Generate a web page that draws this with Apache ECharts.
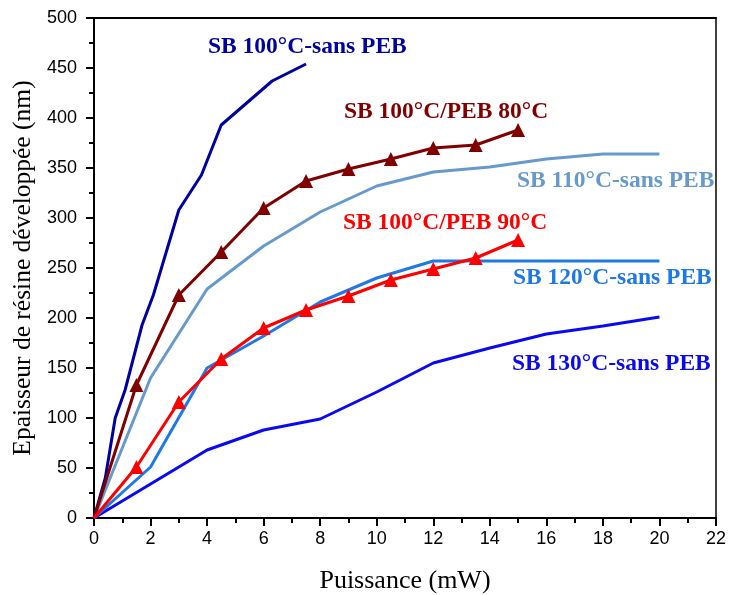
<!DOCTYPE html>
<html><head><meta charset="utf-8">
<script src="https://cdn.jsdelivr.net/npm/echarts@6/dist/echarts.min.js"></script>
<style>html,body{margin:0;padding:0;background:#fff}#c{width:729px;height:595px}</style>
</head><body><div id="c"></div>
<script>
var xTicks = [0,2,4,6,8,10,12,14,16,18,20,22];
var yTicks = [0,50,100,150,200,250,300,350,400,450,500];

var sb100X = [0,0.4,0.75,1.1,1.7,2.1,3,3.8,4.5,6.3,7.5];
var sb100Y = [0,40,100,128,193,223,308,343,393,437,454];

var peb80X = [0,1.5,3,4.5,6,7.5,9,10.5,12,13.5,15];
var peb80Y = [0,133,223,266,310,337,349,359,370,373,388];

var sb110X = [0,2,4,6,8,10,12,14,16,18,20];
var sb110Y = [0,140,229,272,306,332,346,351,359,364,364];

var peb90X = [0,1.5,3,4.5,6,7.5,9,10.5,12,13.5,15];
var peb90Y = [0,51,116,159,190,208,222,238,249,260,278];

var sb120X = [0,2,4,6,8,10,12,20];
var sb120Y = [0,51,150,182,216,240,257,257];

var sb130X = [0,2,4,6,8,10,12,14,16,18,20];
var sb130Y = [0,34,68,88,99,126,155,170,184,192,201];

function pairs(xs, ys){ return xs.map(function(x,i){ return [x, ys[i]]; }); }

var labels = [
  {text:'SB 100°C-sans PEB', x:208, y:47, color:'#0000A0'},
  {text:'SB 100°C/PEB 80°C', x:344, y:112, color:'#800000'},
  {text:'SB 110°C-sans PEB', x:517, y:181, color:'#6699CC'},
  {text:'SB 100°C/PEB 90°C', x:343, y:223, color:'#FF0000'},
  {text:'SB 120°C-sans PEB', x:513, y:278, color:'#1E78E6'},
  {text:'SB 130°C-sans PEB', x:512, y:364, color:'#0A0AF0'}
];

var chart = echarts.init(document.getElementById('c'));
var axisLbl = {color:'#000', fontFamily:'Liberation Sans', fontSize:18};
function line(name, xs, ys, color, marker){
  return {
    name:name, type:'line', data:pairs(xs,ys), xAxisIndex:0, yAxisIndex:0,
    lineStyle:{color:color, width:3}, itemStyle:{color:color},
    symbol: marker ? 'triangle' : 'none', symbolSize: 14, showSymbol: !!marker,
    animation:false, z:3
  };
}
var s2 = line('SB 100°C/PEB 80°C', peb80X, peb80Y, '#800000', true);
var s4 = line('SB 100°C/PEB 90°C', peb90X, peb90Y, '#FF0000', true);
[s2,s4].forEach(function(s){
  s.data = s.data.map(function(p,i){ return i===0 ? {value:p, symbol:'none'} : p; });
});
chart.setOption({
  animation:false,
  grid:{left:94, right:13, top:18, bottom:77, containLabel:false, outerBoundsMode:'none'},
  xAxis:[{
    type:'value', min:0, max:22, interval:2, position:'bottom',
    axisLine:{show:true, onZero:false, lineStyle:{color:'#000', width:2}},
    axisTick:{show:true, inside:false, length:8, lineStyle:{color:'#000', width:2}},
    minorTick:{show:true, splitNumber:2, length:5, lineStyle:{color:'#000', width:2}},
    splitLine:{show:false},
    axisLabel:Object.assign({margin:12}, axisLbl),
    name:'Puissance (mW)', nameLocation:'middle', nameGap:50,
    nameTextStyle:{fontFamily:'Liberation Serif', fontSize:26, color:'#000'}
  },{
    type:'value', min:0, max:22, position:'top',
    axisLine:{show:true, onZero:false, lineStyle:{color:'#000', width:2}},
    axisTick:{show:false}, axisLabel:{show:false}, splitLine:{show:false}
  }],
  yAxis:[{
    type:'value', min:0, max:500, interval:50,
    axisLine:{show:true, onZero:false, lineStyle:{color:'#000', width:2}},
    axisTick:{show:true, inside:false, length:8, lineStyle:{color:'#000', width:2}},
    minorTick:{show:true, splitNumber:2, length:5, lineStyle:{color:'#000', width:2}},
    splitLine:{show:false},
    axisLabel:Object.assign({margin:17}, axisLbl),
    name:'Epaisseur de résine développée (nm)', nameLocation:'middle', nameGap:56,
    nameTextStyle:{fontFamily:'Liberation Serif', fontSize:25.5, color:'#000'}
  },{
    type:'value', min:0, max:500, position:'right',
    axisLine:{show:true, onZero:false, lineStyle:{color:'#000', width:1.5}},
    axisTick:{show:false}, axisLabel:{show:false}, splitLine:{show:false}
  }],
  series:[
    line('SB 130°C-sans PEB', sb130X, sb130Y, '#0A0AF0', false),
    line('SB 120°C-sans PEB', sb120X, sb120Y, '#1E78E6', false),
    line('SB 110°C-sans PEB', sb110X, sb110Y, '#6699CC', false),
    line('SB 100°C-sans PEB', sb100X, sb100Y, '#0000A0', false),
    s2, s4
  ],
  graphic: labels.map(function(l){
    return {type:'text', x:l.x, y:l.y, z:10,
      style:{text:l.text, fill:l.color, fontFamily:'Liberation Serif', fontWeight:'bold', fontSize:23.5, verticalAlign:'middle', align:'left'}};
  })
});
</script></body></html>
